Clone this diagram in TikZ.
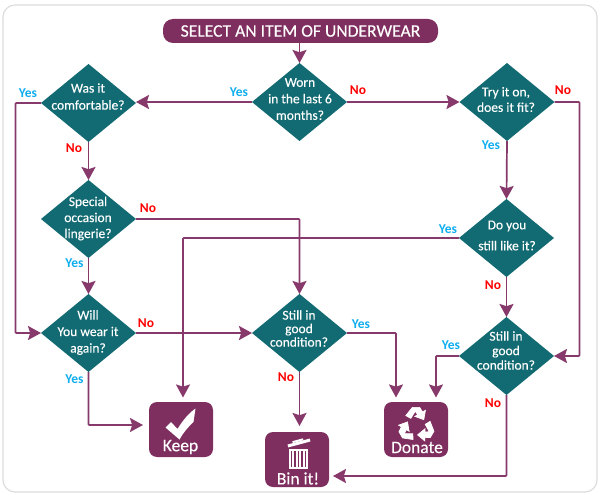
\documentclass[tikz,border=0pt]{standalone}
\usepackage{fontspec}
\setmainfont{Carlito}
\newfontfamily\whitefont[FakeBold=0.25]{Carlito}
\usetikzlibrary{shapes.geometric,arrows.meta,calc}
\definecolor{plum}{HTML}{7F2F5F}
\definecolor{linec}{HTML}{86396A}
\definecolor{teal2}{HTML}{126A72}
\definecolor{yesc}{HTML}{0FAEEF}
\definecolor{frame}{HTML}{DDDDDD}
\newcommand{\dfs}[1]{\whitefont\fontsize{13.5}{#1}\selectfont}
\tikzset{
  dia/.style={diamond,fill=teal2,draw=none,minimum width=95pt,minimum height=78pt,inner sep=0pt,outer sep=0pt,shape aspect=1.218},
  dtext/.style={text=white,align=center,inner sep=0pt},
  res/.style={rectangle,rounded corners=8pt,fill=plum,minimum width=64pt,minimum height=55pt,inner sep=0pt,outer sep=0pt},
  restext/.style={text=white,font=\whitefont\fontsize{17.5}{18}\selectfont,inner sep=0pt},
  conn/.style={draw=linec,line width=1.7pt,-{Stealth[length=13pt,width=14pt,inset=2.2pt]},rounded corners=0.8pt},
  yeslab/.style={text=yesc,font=\fontsize{13.5}{14}\selectfont\bfseries,inner sep=0pt},
  nolab/.style={text=red,font=\fontsize{13.5}{14}\selectfont\bfseries,inner sep=0pt},
  icon/.style={fill=white,draw=none}
}
\begin{document}
\begin{tikzpicture}[x=1pt,y=-1pt]
\useasboundingbox (0,0) rectangle (600,500);
\fill[white] (0,0) rectangle (600,500);
\draw[frame,line width=1.2pt,rounded corners=12pt] (3,5) rectangle (597,492);
% top
\node (top) [rectangle,fill=plum,rounded corners=10pt,minimum width=275pt,minimum height=24pt,inner sep=0pt,outer sep=0pt,text=white,font=\whitefont\fontsize{17.6}{18}\selectfont] at (300.5,31) {SELECT AN ITEM OF UNDERWEAR};
% diamonds
\node (worn) [dia] at (299.5,102) {};
\node (comf) [dia] at (88.5,103) {};
\node (spec) [dia] at (88.5,219) {};
\node (will) [dia] at (88.5,333) {};
\node (good) [dia] at (299.5,333) {};
\node (try) [dia] at (507,102) {};
\node (like) [dia] at (506.5,238) {};
\node (gdtwo) [dia] at (506.5,356) {};
% resources
\node (keep) [res] at (181,429.5) {};
\node (bin) [res] at (297,459.5) {};
\node (don) [res] at (416,429.5) {};
% connectors
\draw[conn] (top.south -| worn.north) -- (worn.north);
\draw[conn] (worn.west) -- (comf.east |- worn.west);
\draw[conn] (worn.east) -- (try.west);
\draw[conn] (comf.south) -- (spec.north);
\draw[conn] (spec.south) -- (will.north);
\draw[conn] (comf.west) -- ++(-25.5,0) |- (will.west);
\draw[conn] (spec.east) -| (good.north);
\draw[conn] (like.west) -| ([xshift=2pt,yshift=4.5pt]keep.north);
\draw[conn] (will.east) -- (good.west);
\draw[conn] (will.south) |- ([xshift=-6pt,yshift=4.5pt]keep.west);
\draw[conn] (good.south) -- ([xshift=2.5pt,yshift=6pt]bin.north);
\draw[conn] (good.east) -| ([xshift=-20pt,yshift=4.5pt]don.north);
\draw[conn] (gdtwo.west) -| ([xshift=20pt,yshift=4.5pt]don.north);
\draw[conn] (gdtwo.south) |- ([xshift=4pt,yshift=-16.5pt]bin.east);
\draw[conn] (try.east) -- ++(25,0) |- (gdtwo.east);
\draw[conn] (try.south) -- (like.north);
\draw[conn] (like.south) -- (gdtwo.north);
% diamond texts
\node (t1) [dtext,font=\dfs{16.5}] at (300,99) {Worn\\in the last 6\\months?};
\node (t2) [dtext,font=\dfs{17}] at (88,96.5) {Was it\\comfortable?};
\node (t3) [dtext,font=\dfs{16}] at (88,218.5) {Special\\occasion\\lingerie?};
\node (t4) [dtext,font=\dfs{16.5}] at (88,332.5) {Will\\You wear it\\again?};
\node (t5) [dtext,font=\dfs{13.5}] at (299,328.5) {Still in\\good\\condition?};
\node (t6) [dtext,font=\dfs{15.5}] at (506,99.5) {Try it on,\\does it fit?};
\node (t7) [dtext,font=\dfs{21}] at (507,235.5) {Do you\\still like it?};
\node (t8) [dtext,font=\dfs{14.5}] at (506,350.5) {Still in\\good\\condition?};
% labels
\node (y1) [yeslab] at (239,92) {Yes};
\node (n1) [nolab] at (358,90) {No};
\node (y2) [yeslab] at (28,93) {Yes};
\node (n2) [nolab] at (74,148) {No};
\node (n3) [nolab] at (148,208) {No};
\node (y3) [yeslab] at (74.5,263) {Yes};
\node (n4) [nolab] at (146,323) {No};
\node (y4) [yeslab] at (74.5,379) {Yes};
\node (n5) [nolab] at (286,377) {No};
\node (y5) [yeslab] at (361,324) {Yes};
\node (y6) [yeslab] at (491,145) {Yes};
\node (n6) [nolab] at (563,90) {No};
\node (y7) [yeslab] at (448,229) {Yes};
\node (n7) [nolab] at (493,285) {No};
\node (y8) [yeslab] at (451,345) {Yes};
\node (n8) [nolab] at (493,403) {No};
% tick
\fill[icon] (165.5,427.5) -- (171,422) -- (177.5,429) .. controls (183,420) and (189,413) .. (195.5,408.5) -- (193.5,422) .. controls (188,427) and (183,433) .. (179.5,439.5) -- cycle;
% bin
\fill[icon,rotate around={15:(299,443)}] (287.5,441.5) rectangle (310.5,444.5);
\fill[icon,rotate around={15:(299,443)}] (293,439.5) rectangle (304,441.5);
\fill[icon] (289,449) rectangle (308,469);
\foreach \sx in {291.5,295,298.5,302,305.5}{\fill[plum] (\sx-0.8,451) rectangle (\sx+0.8,467);}
% recycle
\foreach \ang in {0,120,240}{
\filldraw[icon,draw=white,line width=0.7pt,shift={(416.3,425.5)},rotate=\ang,scale=1.1]
  (-9.5,-9) -- (-3.5,-16.5) -- (3,-16.5) -- (5.7,-12.3) -- (8.3,-13.8) -- (6.8,-5.3) -- (-1.3,-8.3) -- (1.3,-9.8) -- (-1,-13) -- (-5,-6.5) -- cycle;
}
\node (keept) [restext] at (180.5,447) {Keep};
\node (bint) [restext] at (298,478.5) {Bin it!};
\node (dont) [restext] at (417,447.5) {Donate};
\end{tikzpicture}
\end{document}
